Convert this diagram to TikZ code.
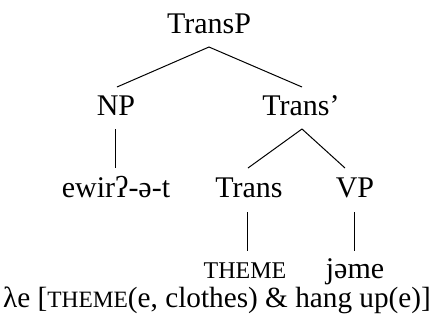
\documentclass[tikz,border=0pt]{standalone}
\usepackage{fontspec}
\setmainfont{Liberation Serif}
\newcommand{\mysc}[1]{{\fontsize{0.8em}{1em}\selectfont #1}}
\begin{document}
\begin{tikzpicture}[x=0.4pt,y=-0.4pt,
  lab/.style={anchor=base,inner sep=0pt,font=\fontsize{12pt}{14pt}\selectfont},
  edge/.style={draw=black,line width=0.4pt}]
\useasboundingbox (0,0) rectangle (435,322);
\node[lab] (transp) at (209,33) {TransP};
\node[lab] (np) at (116,115) {NP};
\node[lab] (transbar) at (301,115) {Trans’};
\node[lab] (ewir) at (116,197) {ewirʔ-ə-t};
\node[lab] (trans) at (249,197) {Trans};
\node[lab] (vp) at (355,197) {VP};
\node[lab] (theme) at (245,278) {\mysc{THEME}};
\node[lab] (jeme) at (355,278) {jəme};
\node[lab,font=\fontsize{11.7pt}{14pt}\selectfont] (sem) at (217,307) {λe [\mysc{THEME}(e, clothes) \& hang up(e)]};
\coordinate (c1) at (209,47);
\coordinate (c2) at (117,87);
\coordinate (c3) at (302,87);
\coordinate (c4) at (116,129);
\coordinate (c5) at (116,168);
\coordinate (c6) at (302,129);
\coordinate (c7) at (248,168);
\coordinate (c8) at (345,168);
\coordinate (c9) at (248,212);
\coordinate (c10) at (248,251);
\coordinate (c11) at (355,212);
\coordinate (c12) at (355,251);
\draw[edge] (c2) -- (c1) -- (c3);
\draw[edge] (c4) -- (c5);
\draw[edge] (c7) -- (c6) -- (c8);
\draw[edge] (c9) -- (c10);
\draw[edge] (c11) -- (c12);
\end{tikzpicture}
\end{document}
